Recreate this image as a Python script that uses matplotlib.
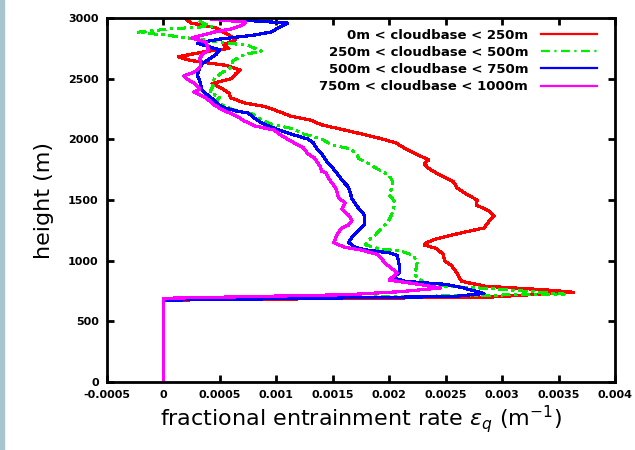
import matplotlib
matplotlib.use("Agg")
import matplotlib.pyplot as plt
from matplotlib.patches import Rectangle

# profiles of fractional entrainment rate (m^-1) vs height (m)
labels = ["0m < cloudbase < 250m", "250m < cloudbase < 500m",
          "500m < cloudbase < 750m", "750m < cloudbase < 1000m"]
colors = ["#ff0000", "#00ee00", "#0000ff", "#ff00ff"]

z_red = [0, 675, 700, 740, 760, 790, 830, 900, 960, 1000, 1050, 1100, 1130, 1150, 1180,
         1230, 1270, 1320, 1370, 1410, 1460, 1500, 1550, 1600, 1650, 1700, 1760, 1800,
         1830, 1870, 1920, 1970, 2010, 2050, 2080, 2120, 2160, 2190, 2230, 2270, 2300,
         2340, 2380, 2420, 2460, 2500, 2540, 2570, 2610, 2650, 2680, 2720, 2750, 2780,
         2820, 2860, 2890, 2920, 2960, 3000]
e_red = [0, 0, 0.00289, 0.00363, 0.00338, 0.00285, 0.00264, 0.00260, 0.00255, 0.00249,
         0.00248, 0.00242, 0.00231, 0.00233, 0.00242, 0.00264, 0.00284, 0.00288, 0.00293,
         0.00288, 0.00277, 0.00278, 0.00268, 0.00260, 0.00257, 0.00246, 0.00235, 0.00231,
         0.00235, 0.00226, 0.00215, 0.00206, 0.00191, 0.00173, 0.00159, 0.00140, 0.00130,
         0.00113, 0.00102, 0.00090, 0.00072, 0.00060, 0.00058, 0.00052, 0.00043, 0.00060,
         0.00064, 0.00068, 0.00055, 0.00024, 0.00013, 0.00035, 0.00058, 0.00053, 0.00064,
         0.00058, 0.00052, 0.00046, 0.00024, 0.00019]

z_green = [0, 675, 725, 770, 790, 823, 886, 940, 995, 1050, 1077, 1100, 1130, 1173, 1213,
           1268, 1322, 1377, 1432, 1486, 1541, 1595, 1650, 1704, 1759, 1800, 1841, 1881,
           1922, 1950, 2004, 2045, 2086, 2127, 2168, 2209, 2236, 2277, 2318, 2345, 2386,
           2440, 2473, 2509, 2550, 2599, 2645, 2700, 2727, 2773, 2823, 2858, 2883, 2910,
           2932, 2959, 2986]
e_green = [0, 0, 0.00355, 0.00290, 0.00250, 0.00230, 0.00222, 0.00224, 0.00225, 0.00220,
           0.00211, 0.00190, 0.00179, 0.00182, 0.00188, 0.00193, 0.00199, 0.00202, 0.00204,
           0.00205, 0.00200, 0.00202, 0.00203, 0.00200, 0.00189, 0.00182, 0.00173, 0.00171,
           0.00166, 0.00150, 0.00140, 0.00124, 0.00115, 0.00095, 0.00086, 0.00079, 0.00064,
           0.00053, 0.00046, 0.00050, 0.00041, 0.00044, 0.00043, 0.00046, 0.00052, 0.00061,
           0.00061, 0.00072, 0.00087, 0.00075, 0.00033, 0.00003, -0.00023, 0.00006,
           0.00043, 0.00035, 0.00030]

z_blue = [0, 675, 705, 730, 775, 805, 830, 860, 900, 960, 1045, 1063, 1088, 1110, 1150,
          1195, 1244, 1300, 1376, 1442, 1510, 1606, 1664, 1705, 1740, 1763, 1813, 1870,
          1895, 1920, 1970, 2002, 2027, 2052, 2077, 2130, 2180, 2217, 2233, 2258, 2282,
          2315, 2381, 2406, 2490, 2530, 2587, 2620, 2670, 2703, 2736, 2793, 2826, 2859,
          2884, 2909, 2933, 2958, 2983, 3000]
e_blue = [0, 0, 0.00257, 0.00284, 0.00266, 0.00250, 0.00214, 0.00203, 0.00209, 0.00209,
          0.00207, 0.00201, 0.00180, 0.00170, 0.00164, 0.00167, 0.00172, 0.00178, 0.00178,
          0.00172, 0.00167, 0.00164, 0.00158, 0.00155, 0.00152, 0.00150, 0.00145, 0.00141,
          0.00139, 0.00136, 0.00133, 0.00128, 0.00119, 0.00110, 0.00102, 0.00088, 0.00080,
          0.00075, 0.00065, 0.00055, 0.00049, 0.00046, 0.00037, 0.00034, 0.00032, 0.00030,
          0.00032, 0.00034, 0.00042, 0.00047, 0.00050, 0.00030, 0.00050, 0.00080, 0.00095,
          0.00100, 0.00105, 0.00110, 0.00070, 0.00050]

z_mag = [0, 690, 720, 745, 775, 800, 840, 900, 975, 1050, 1088, 1112, 1150, 1220, 1270,
         1294, 1330, 1376, 1425, 1475, 1520, 1590, 1631, 1670, 1722, 1739, 1776, 1813,
         1846, 1880, 1930, 1970, 2002, 2027, 2077, 2108, 2150, 2190, 2220, 2245, 2282,
         2307, 2340, 2390, 2414, 2464, 2497, 2522, 2547, 2571, 2600, 2637, 2670, 2711,
         2736, 2800, 2835, 2884, 2910, 2942, 2966, 2990]
e_mag = [0, 0, 0.00163, 0.00210, 0.00245, 0.00230, 0.00200, 0.00207, 0.00197, 0.00190,
         0.00175, 0.00160, 0.00151, 0.00154, 0.00158, 0.00164, 0.00167, 0.00164, 0.00158,
         0.00161, 0.00155, 0.00153, 0.00150, 0.00147, 0.00144, 0.00140, 0.00139, 0.00136,
         0.00134, 0.00128, 0.00124, 0.00116, 0.00110, 0.00105, 0.00098, 0.00082, 0.00072,
         0.00065, 0.00058, 0.00052, 0.00045, 0.00042, 0.00038, 0.00027, 0.00032, 0.00027,
         0.00021, 0.00018, 0.00025, 0.00030, 0.00033, 0.00033, 0.00032, 0.00036, 0.00040,
         0.00038, 0.00025, 0.00045, 0.00060, 0.00070, 0.00073, 0.00043]

xticks = [-0.0005, 0, 0.0005, 0.001, 0.0015, 0.002, 0.0025, 0.003, 0.0035, 0.004]
xticklabels = ["-0.0005", "0", "0.0005", "0.001", "0.0015", "0.002", "0.0025",
               "0.003", "0.0035", "0.004"]
yticks = [0, 500, 1000, 1500, 2000, 2500, 3000]

fig = plt.figure(figsize=(6.35, 4.5), dpi=100)
fig.patches.append(Rectangle((0, 0), 0.006, 1, transform=fig.transFigure,
                             color="#a8c4cc", zorder=0))
ax = fig.add_axes([0.1685, 0.151, 0.80, 0.809])

series = [(e_red, z_red), (e_green, z_green), (e_blue, z_blue), (e_mag, z_mag)]
styles = ["-", (0, (4, 2, 1, 2)), "-", "-"]
for (e, z), c, ls, lab in zip(series, colors, styles, labels):
    ax.plot(e, z, color=c, ls=ls, lw=1.6, label=lab, antialiased=False)

ax.set_xlim(-0.0005, 0.004)
ax.set_ylim(0, 3000)
ax.set_xticks(xticks)
ax.set_xticklabels(xticklabels)
ax.set_yticks(yticks)
ax.tick_params(direction="in", length=5, width=2, top=True, right=True,
               labelsize=8, pad=6)
for lbl in ax.get_xticklabels() + ax.get_yticklabels():
    lbl.set_fontweight("bold")
for sp in ax.spines.values():
    sp.set_linewidth(2)

ax.set_ylabel("height (m)", fontsize=16, labelpad=10)
ax.set_xlabel(r"fractional entrainment rate $\varepsilon_q$ (m$^{-1}$)",
              fontsize=16, labelpad=2)

leg = ax.legend(loc="upper right", frameon=False, markerfirst=False,
                alignment="right", handlelength=4.2,
                labelspacing=0.32, borderaxespad=0.4, handletextpad=1.0,
                bbox_to_anchor=(0.985, 1.0),
                prop={"weight": "bold", "size": 9.5})

fig.savefig("out.png", dpi=100)
